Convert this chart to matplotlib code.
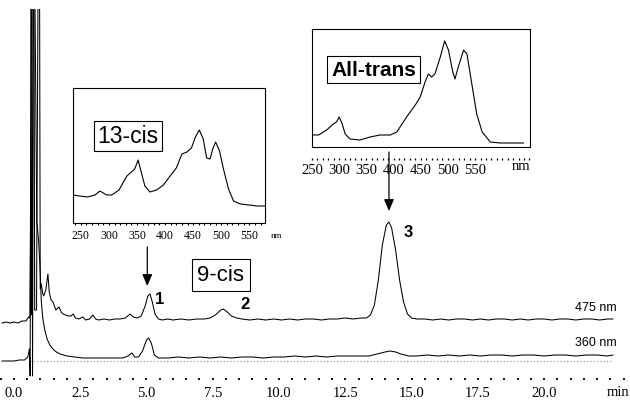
import matplotlib
matplotlib.use("Agg")
import matplotlib.pyplot as plt
from matplotlib.ticker import MultipleLocator, FixedLocator

# ---------------- data ----------------
# 475 nm trace: retention time (min) and signal (arbitrary units, baseline 0)
t475 = [-0.45, -0.3, -0.15, 0.0, 0.15, 0.3, 0.45, 0.55, 0.60, 0.63, 0.65, 0.69, 0.72, 0.75,
        0.78, 0.85, 0.92, 0.96, 0.99, 1.03, 1.08, 1.12, 1.2, 1.28, 1.33, 1.4, 1.47, 1.58,
        1.7, 1.78, 1.85, 1.95, 2.05, 2.15, 2.23, 2.32, 2.45, 2.6, 2.7, 2.85, 2.98, 3.08,
        3.2, 3.4, 3.6, 3.8, 4.0, 4.2, 4.38, 4.5, 4.65, 4.8, 4.95, 5.05, 5.13, 5.22, 5.32,
        5.45, 5.6, 5.8, 6.0, 6.3, 6.6, 6.9, 7.2, 7.4, 7.6, 7.8, 7.9, 8.05, 8.2, 8.4, 8.6,
        8.9, 9.2, 9.5, 9.8, 10.1, 10.4, 10.7, 11.0, 11.3, 11.6, 11.9, 12.2, 12.5, 12.8,
        13.1, 13.3, 13.45, 13.6, 13.75, 13.9, 14.05, 14.15, 14.25, 14.4, 14.55, 14.7,
        14.85, 15.0, 15.2, 15.5, 15.8, 16.1, 16.4, 16.7, 17.0, 17.3, 17.6, 17.9, 18.2,
        18.5, 18.8, 19.1, 19.4, 19.7, 20.0, 20.3, 20.6, 20.9, 21.2, 21.5, 21.8, 22.1, 22.4, 22.6]
s475 = [-3, -2, -3, -2, -3, -1, -1, 3, 2, 115, 5, 400, 400, 400,
        10, 10, 400, 400, 31, 36, 27, 24, 30, 46, 28, 20, 18, 10,
        13, 8, 6, 5, 4, 4, 6, 2, 1, 3, 0, 1, 5, 1,
        0, 1, 0, 1, 1, 2, 6, 3, 2, 4, 14, 24, 26, 18, 6,
        1, 0, 1, 0, 1, 0, 1, 1, 2, 5, 10, 11, 8, 4, 2, 1,
        0, 1, 0, 1, 0, 1, 0, 1, 1, 0, 1, 1, 2, 1,
        2, 2, 5, 15, 40, 75, 95, 98, 92, 70, 40, 18,
        6, 2, 1, 1, 0, 1, 0, 1, 1, 0, 1, 0, 1,
        1, 0, 1, 0, 1, 1, 0, 1, 1, 0, 1, 1, 0, 1, 1]

# 360 nm trace
t360 = [-0.45, -0.2, 0.0, 0.2, 0.4, 0.52, 0.58, 0.61, 0.64, 0.67, 0.70, 0.74, 0.78, 0.86,
        0.93, 0.98, 1.03, 1.09, 1.17, 1.25, 1.35, 1.47, 1.6, 1.74, 2.0, 2.3, 2.6, 3.0, 3.4,
        3.8, 4.1, 4.3, 4.45, 4.55, 4.7, 4.85, 5.0, 5.08, 5.18, 5.3, 5.45, 5.8, 6.2, 6.6,
        7.0, 7.4, 7.8, 8.2, 8.6, 9.0, 9.4, 9.8, 10.2, 10.6, 11.0, 11.4, 11.8, 12.2, 12.6,
        13.0, 13.4, 13.7, 14.0, 14.2, 14.4, 14.6, 14.9, 15.2, 15.6, 16.0, 16.4, 16.8, 17.2,
        17.6, 18.0, 18.4, 18.8, 19.2, 19.6, 20.0, 20.4, 20.8, 21.2, 21.6, 22.0, 22.4, 22.6]
s360 = [0, 0, 0, 1, 1, 4, 12, -15, 400, 400, -15, 400, 400, 140,
        120, 95, 60, 42, 30, 22, 16, 12, 9, 7, 5, 4, 3, 3, 3,
        3, 3, 5, 8, 4, 4, 10, 21, 23, 18, 6, 3, 3, 4, 3,
        4, 3, 4, 3, 4, 4, 3, 4, 4, 5, 4, 5, 4, 5, 5,
        5, 5, 7, 9, 10, 9, 7, 5, 5, 6, 5, 6, 5, 6,
        5, 6, 6, 5, 6, 6, 5, 6, 6, 5, 6, 6, 5, 6]

# inset spectra: wavelength (nm) and absorbance (arbitrary units)
wl_13cis = [235, 248, 262, 275, 284, 296, 305, 318, 332, 340, 346, 352, 358, 364, 373,
            385, 397, 409, 420, 430, 439, 447, 454, 461, 468, 474, 480, 485, 490, 497,
            504, 513, 522, 534, 550, 564, 578]
ab_13cis = [28, 27, 26, 28, 32, 28, 28, 33, 47, 51, 54, 63, 50, 37, 31,
            33, 38, 47, 55, 69, 71, 75, 86, 93, 84, 65, 64, 74, 81, 72,
            54, 34, 22, 19, 18, 17, 17]

wl_trans = [249, 262, 277, 289, 295, 300, 305, 311, 320, 338, 357, 375, 394, 406, 424,
            440, 449, 458, 464, 470, 476, 486, 494, 501, 509, 513, 519, 529, 535, 544,
            553, 563, 578, 596, 615, 639]
ab_trans = [10, 10, 15, 21, 23, 28, 22, 11, 6, 5, 8, 10, 10, 13, 28,
            40, 48, 63, 71, 68, 71, 88, 104, 95, 73, 66, 78, 95, 91, 61,
            31, 13, 3, 2, 2, 2]

main_ticks = [0.0, 2.5, 5.0, 7.5, 10.0, 12.5, 15.0, 17.5, 20.0]
main_ticklabels = ["0.0", "2.5", "5.0", "7.5", "10.0", "12.5", "15.0", "17.5", "20.0"]
spec_ticks = [250, 300, 350, 400, 450, 500, 550]
spec_ticklabels = ["250", "300", "350", "400", "450", "500", "550"]

peak_labels = ["1", "2", "3"]
peak_times = [5.13, 7.9, 14.15]

# ---------------- figure ----------------
W, H = 630, 406
fig = plt.figure(figsize=(W / 100, H / 100), dpi=100)

def fr(x0, y0, x1, y1):
    return [x0 / W, 1 - y1 / H, (x1 - x0) / W, (y1 - y0) / H]

SERIF = ["Liberation Serif", "DejaVu Serif"]
SANS = ["Liberation Sans", "DejaVu Sans"]

ax = fig.add_axes(fr(0, 10, 630, 380))
OFFSET = 41
ax.plot(t360, s360, color="black", lw=0.75, clip_on=True)
ax.plot(t475, [v + OFFSET for v in s475], color="black", lw=0.75, clip_on=True)
ax.hlines(0, 0.6, 22.6, colors="#888888", linestyles=(0, (1, 2)), lw=0.8)
ax.set_xlim(-0.528, 23.245)
ax.set_ylim(-18, 352)
for sp in ax.spines.values():
    sp.set_visible(False)
ax.set_yticks([])
ax.xaxis.set_major_locator(FixedLocator(main_ticks))
ax.set_xticklabels(main_ticklabels, fontfamily=SERIF, fontsize=10.5)
ax.xaxis.set_minor_locator(MultipleLocator(0.5))
ax.tick_params(axis="x", which="both", direction="inout", length=1.6, width=1.3,
               color="black", pad=4)
ax.text(22.8, -31, "min", fontfamily=SERIF, fontsize=10.5, ha="center", va="center",
        clip_on=False)

ax.text(22.75, 54, "475 nm", fontfamily=SANS, fontsize=9, ha="right", va="center")
ax.text(22.75, 19, "360 nm", fontfamily=SANS, fontsize=9, ha="right", va="center")

label_pos = [(5.51, 62), (8.72, 57), (14.87, 129)]
for lab, (lx, ly) in zip(peak_labels, label_pos):
    ax.text(lx, ly, lab, fontfamily=SANS, fontsize=12, fontweight="bold",
            ha="center", va="center")

arrow_specs = [(peak_times[0] - 0.1, 114, 75), (peak_times[2], 209, 150)]
for ax_t, y0, y1 in arrow_specs:
    ax.annotate("", xy=(ax_t, y1), xytext=(ax_t, y0),
                arrowprops=dict(arrowstyle="-|>,head_length=0.7,head_width=0.3",
                                color="black", lw=0.9, shrinkA=0, shrinkB=0))

ax.text(7.81, 86, "9-cis", fontfamily=SANS, fontsize=16, ha="center", va="center",
        bbox=dict(boxstyle="square,pad=0.25", fc="white", ec="black", lw=0.8))

# ---------------- inset 13-cis ----------------
a1 = fig.add_axes(fr(73, 89, 265, 224))
a1.plot(wl_13cis, ab_13cis, color="black", lw=0.8)
a1.set_xlim(236, 578)
a1.set_ylim(0, 135)
a1.set_yticks([])
for sp in a1.spines.values():
    sp.set_linewidth(0.8)
a1.xaxis.set_major_locator(FixedLocator(spec_ticks))
a1.set_xticklabels(spec_ticklabels, fontfamily=SERIF, fontsize=8.5)
a1.xaxis.set_minor_locator(MultipleLocator(10))
a1.tick_params(axis="x", which="both", direction="out", length=1.5, width=0.8, pad=3)
a1.text(1.06, -0.09, "nm", transform=a1.transAxes, fontfamily=SERIF, fontsize=6.5,
        ha="center", va="center")
fig.text(127.5 / W, 1 - 137 / H, "13-cis", fontfamily=SANS, fontsize=16.5,
         ha="center", va="center",
         bbox=dict(boxstyle="square,pad=0.15", fc="white", ec="black", lw=0.8))

# ---------------- inset all-trans ----------------
a2 = fig.add_axes(fr(312, 30, 530, 148))
a2.plot(wl_trans, ab_trans, color="black", lw=0.8)
a2.set_xlim(250, 651)
a2.set_ylim(-2, 116)
a2.set_yticks([])
for sp in a2.spines.values():
    sp.set_linewidth(0.8)
a2.spines["bottom"].set_position(("outward", 8))
a2.spines["bottom"].set_color("none")
a2.plot([0, 1], [0, 0], transform=a2.transAxes, color="black", lw=0.8, clip_on=False)
a2.xaxis.set_major_locator(FixedLocator(spec_ticks))
a2.set_xticklabels(spec_ticklabels, fontfamily=SERIF, fontsize=10.5)
a2.xaxis.set_minor_locator(MultipleLocator(10))
a2.tick_params(axis="x", which="both", direction="out", length=1.2, width=0.9,
               color="black", pad=2)
a2.text(1.0, -0.155, "nm", transform=a2.transAxes, fontfamily=SERIF, fontsize=10.5,
        ha="right", va="center")
fig.text(373.5 / W, 1 - 70.5 / H, "All-trans", fontfamily=SANS, fontsize=15,
         fontweight="bold", ha="center", va="center",
         bbox=dict(boxstyle="square,pad=0.2", fc="white", ec="black", lw=0.8))

fig.savefig("out.png", dpi=100)
